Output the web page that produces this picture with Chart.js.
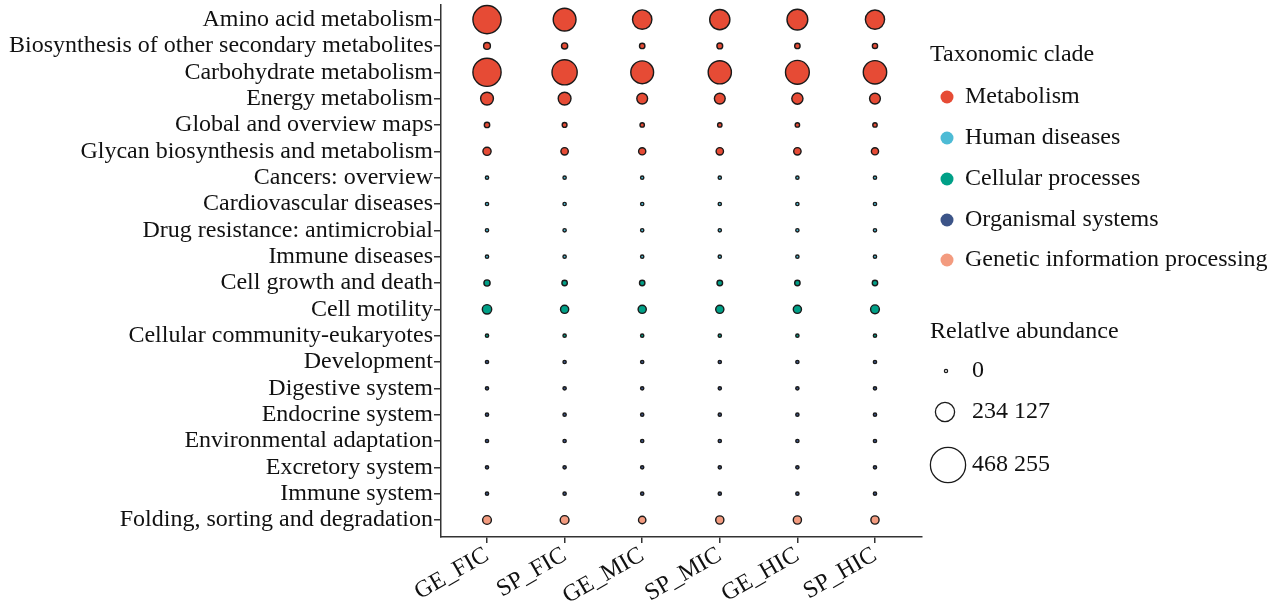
<!DOCTYPE html>
<html>
<head>
<meta charset="utf-8">
<script src="https://cdn.jsdelivr.net/npm/chart.js@4/dist/chart.umd.min.js"></script>
<style>
html,body{margin:0;padding:0;background:#fff;}
#wrap{width:1280px;height:602px;position:relative;}
</style>
</head>
<body>
<div id="wrap"><canvas id="c" width="1280" height="602"></canvas></div>
<script>
const groups = ["GE_FIC", "SP_FIC", "GE_MIC", "SP_MIC", "GE_HIC", "SP_HIC"];
const pathways = [
  "Amino acid metabolism",
  "Biosynthesis of other secondary metabolites",
  "Carbohydrate metabolism",
  "Energy metabolism",
  "Global and overview maps",
  "Glycan biosynthesis and metabolism",
  "Cancers: overview",
  "Cardiovascular diseases",
  "Drug resistance: antimicrobial",
  "Immune diseases",
  "Cell growth and death",
  "Cell motility",
  "Cellular community-eukaryotes",
  "Development",
  "Digestive system",
  "Endocrine system",
  "Environmental adaptation",
  "Excretory system",
  "Immune system",
  "Folding, sorting and degradation"
];
const pathwayClade = [0,0,0,0,0,0,1,1,1,1,2,2,2,3,3,3,3,3,3,4];
const clades = ["Metabolism", "Human diseases", "Cellular processes", "Organismal systems", "Genetic information processing"];
const cladeColors = ["#E64B35", "#4DBBD5", "#00A087", "#3C5488", "#F39B7F"];

// relative abundance per group (one value per pathway, same order)
const GE_FIC = [365800, 52700, 365800, 140500, 32200, 73200, 1200, 1200, 1200, 1200, 43900, 90700, 1200, 1000, 1000, 1000, 1000, 1000, 1000, 82000];
const SP_FIC = [286800, 43900, 321900, 140500, 23400, 61500, 1200, 1200, 1200, 1200, 32200, 73200, 1200, 1000, 1000, 1000, 1000, 1000, 1000, 82000];
const GE_MIC = [237000, 32200, 286800, 111200, 17600, 58500, 1200, 1200, 1200, 1200, 32200, 73200, 1200, 1000, 1000, 1000, 1000, 1000, 1000, 61500];
const SP_MIC = [248800, 38000, 292700, 111200, 17600, 61500, 1200, 1200, 1200, 1200, 35000, 73200, 1200, 1000, 1000, 1000, 1000, 1000, 1000, 73200];
const GE_HIC = [257500, 32200, 301400, 117100, 17600, 61500, 1200, 1200, 1200, 1200, 32200, 73200, 1200, 1000, 1000, 1000, 1000, 1000, 1000, 73200];
const SP_HIC = [234100, 29300, 295600, 111200, 17600, 58500, 1200, 1200, 1200, 1200, 32200, 82000, 1200, 1000, 1000, 1000, 1000, 1000, 1000, 73200];
const groupValues = [GE_FIC, SP_FIC, GE_MIC, SP_MIC, GE_HIC, SP_HIC];

const sizeBreaks = [0, 234127, 468255];
const sizeLabels = ["0", "234 127", "468 255"];
const sizeMax = 468255;
function sizeOf(v) { return 1.6 + (v / sizeMax) * 16; }

const FONT = "'Liberation Serif', 'Times New Roman', serif";
Chart.defaults.font.family = FONT;
Chart.defaults.color = "#111";

const datasets = clades.map((name, ci) => {
  const data = [];
  pathways.forEach((p, pi) => {
    if (pathwayClade[pi] !== ci) return;
    groups.forEach((g, gi) => {
      const v = groupValues[gi][pi];
      data.push({ x: gi, y: pi, r: sizeOf(v), v: v });
    });
  });
  return {
    label: name,
    data: data,
    backgroundColor: cladeColors[ci],
    borderColor: "#1a1a1a",
    borderWidth: 1.4,
    clip: false
  };
});

const legendPlugin = {
  id: "customLegend",
  afterDraw(chart) {
    const ctx = chart.ctx;
    ctx.save();
    ctx.font = "24px " + FONT;
    ctx.fillStyle = "#111";
    ctx.textBaseline = "middle";
    ctx.textAlign = "left";
    ctx.fillText("Taxonomic clade", 930, 55);
    const ys = [97, 138, 179, 220, 260];
    clades.forEach((c, i) => {
      ctx.beginPath();
      ctx.arc(947, ys[i], 6.5, 0, Math.PI * 2);
      ctx.fillStyle = cladeColors[i];
      ctx.fill();
      ctx.fillStyle = "#111";
      ctx.fillText(c, 965, ys[i]);
    });
    ctx.fillText("Relatlve abundance", 930, 332);
    const sy = [371, 412, 465];
    const sx = [946, 945, 948];
    sizeBreaks.forEach((b, i) => {
      ctx.beginPath();
      ctx.arc(sx[i], sy[i], sizeOf(b), 0, Math.PI * 2);
      ctx.strokeStyle = "#1a1a1a";
      ctx.lineWidth = 1.3;
      ctx.stroke();
      ctx.fillStyle = "#111";
      ctx.fillText(sizeLabels[i], 972, sy[i]);
    });
    ctx.restore();
  }
};

new Chart(document.getElementById("c"), {
  type: "bubble",
  data: { datasets: datasets },
  options: {
    responsive: false,
    animation: false,
    events: [],
    layout: { autoPadding: false, padding: { left: 0, right: 358, top: 4, bottom: 0 } },
    plugins: { legend: { display: false }, tooltip: { enabled: false } },
    scales: {
      x: {
        type: "linear",
        min: -0.593,
        max: 5.606,
        afterBuildTicks: (s) => { s.ticks = groups.map((g, i) => ({ value: i })); },
        afterFit: (s) => { s.height = 65; },
        ticks: {
          autoSkip: false,
          minRotation: 30,
          maxRotation: 30,
          padding: -2,
          color: "#111",
          font: { size: 24, family: FONT },
          callback: (v) => groups[v]
        },
        grid: { drawOnChartArea: false, drawTicks: true, tickLength: 6, color: "#333", lineWidth: 1.5 },
        border: { display: true, color: "#333", width: 1.5 }
      },
      y: {
        type: "linear",
        reverse: true,
        min: -0.57,
        max: 19.645,
        afterBuildTicks: (s) => { s.ticks = pathways.map((p, i) => ({ value: i })); },
        afterFit: (s) => { s.width = 441; },
        ticks: {
          autoSkip: false,
          padding: 1,
          color: "#111",
          font: { size: 24, family: FONT, lineHeight: 0.3 },
          callback: (v) => pathways[v]
        },
        grid: { drawOnChartArea: false, drawTicks: true, tickLength: 7, color: "#333", lineWidth: 1.5 },
        border: { display: true, color: "#333", width: 1.5 }
      }
    }
  },
  plugins: [legendPlugin]
});
</script>
</body>
</html>
